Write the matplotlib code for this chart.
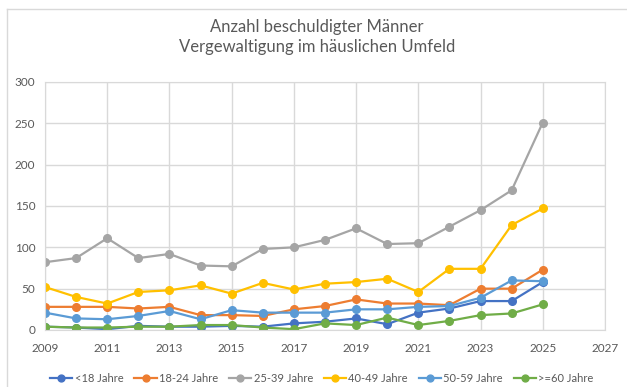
import matplotlib
matplotlib.use('Agg')
import matplotlib.pyplot as plt
from matplotlib.lines import Line2D

plt.rcParams['font.family'] = ['Lato', 'DejaVu Sans']

years = list(range(2009, 2026))

under_18 = [4, 3, 1, 5, 4, 4, 5, 4, 8, 10, 14, 7, 21, 26, 35, 35, 58]
age_18_24 = [28, 28, 28, 26, 28, 18, 18, 17, 25, 29, 37, 32, 32, 30, 50, 50, 73]
age_25_39 = [82, 87, 111, 87, 92, 78, 77, 98, 100, 109, 123, 104, 105, 125, 145, 169, 251]
age_40_49 = [52, 40, 32, 46, 48, 54, 44, 57, 49, 56, 58, 62, 46, 74, 74, 127, 147]
age_50_59 = [21, 14, 13, 17, 23, 13, 24, 21, 21, 21, 25, 25, 28, 29, 39, 60, 59]
over_60 = [4, 3, 3, 4, 4, 6, 6, 3, 1, 8, 6, 15, 6, 11, 18, 20, 31]

series = [
    ('<18 Jahre', under_18, '#4472C4'),
    ('18-24 Jahre', age_18_24, '#ED7D31'),
    ('25-39 Jahre', age_25_39, '#A5A5A5'),
    ('40-49 Jahre', age_40_49, '#FFC000'),
    ('50-59 Jahre', age_50_59, '#5B9BD5'),
    ('>=60 Jahre', over_60, '#70AD47'),
]

text_grey = '#595959'
grid_grey = '#D9D9D9'

fig = plt.figure(figsize=(6.27, 3.87), dpi=100)
ax = fig.add_axes([45 / 627, 57 / 387, 560 / 627, 248 / 387])

for label, values, color in series:
    ax.plot(years, values, color=color, linewidth=1.6, marker='o',
            markersize=5.5, label=label)

ax.set_xlim(2009, 2027)
ax.set_ylim(0, 300)
ax.set_xticks(range(2009, 2028, 2))
ax.set_yticks(range(0, 301, 50))
ax.grid(True, color=grid_grey, linewidth=1)
ax.set_axisbelow(True)
ax.tick_params(length=0, labelsize=8.5, colors=text_grey)
ax.tick_params(axis='x', pad=9)
ax.tick_params(axis='y', pad=7)
for spine in ax.spines.values():
    spine.set_color(grid_grey)

fig.text(317 / 627, 1 - 37 / 387, 'Anzahl beschuldigter Männer\nVergewaltigung im häuslichen Umfeld',
         ha='center', va='center', fontsize=12, color=text_grey, linespacing=1.3)

fig.legend(loc='center', bbox_to_anchor=(322 / 627, 1 - 378 / 387), ncol=6,
           frameon=False, fontsize=8, labelcolor=text_grey, handlelength=2.0,
           handletextpad=0.2, columnspacing=1.0, markerscale=0.9)

# chart area border
fig.add_artist(Line2D([7 / 627, 1], [1 - 9 / 387, 1 - 9 / 387],
                      transform=fig.transFigure, color=grid_grey, linewidth=1))
fig.add_artist(Line2D([7 / 627, 7 / 627], [0, 1 - 9 / 387],
                      transform=fig.transFigure, color=grid_grey, linewidth=1))

fig.savefig('out.png', dpi=100)
